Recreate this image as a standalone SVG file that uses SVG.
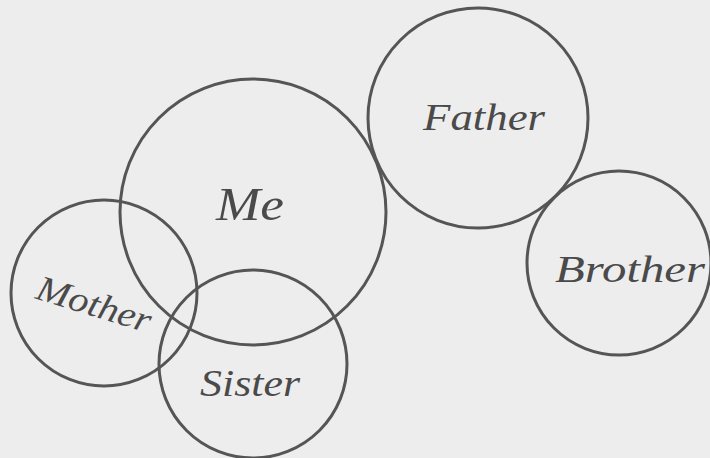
<svg xmlns="http://www.w3.org/2000/svg" width="710" height="458" viewBox="0 0 710 458">
<style>
.c{fill:none;stroke:#555;stroke-width:3}
.t{font-family:"Liberation Serif","DejaVu Serif",serif;font-style:italic;fill:#4a4a4a;text-anchor:middle}
</style>
<rect width="710" height="458" fill="#ededed"/>
<g id="me"><circle class="c" cx="253" cy="212" r="133"/><text class="t" x="250" y="220" font-size="46" textLength="68" lengthAdjust="spacingAndGlyphs">Me</text></g>
<g id="father"><circle class="c" cx="478" cy="118" r="110"/><text class="t" x="484" y="130" font-size="38" textLength="122" lengthAdjust="spacingAndGlyphs">Father</text></g>
<g id="brother"><circle class="c" cx="619" cy="263" r="92"/><text class="t" x="630" y="282" font-size="38" textLength="150" lengthAdjust="spacingAndGlyphs">Brother</text></g>
<g id="mother"><circle class="c" cx="104" cy="293" r="93" stroke-width="2.2"/><text class="t" x="94" y="316" font-size="36" textLength="118" lengthAdjust="spacingAndGlyphs" transform="rotate(17 94 305)">Mother</text></g>
<g id="sister"><circle class="c" cx="253" cy="364" r="94"/><text class="t" x="250" y="396" font-size="38" textLength="100" lengthAdjust="spacingAndGlyphs">Sister</text></g>
</svg>
